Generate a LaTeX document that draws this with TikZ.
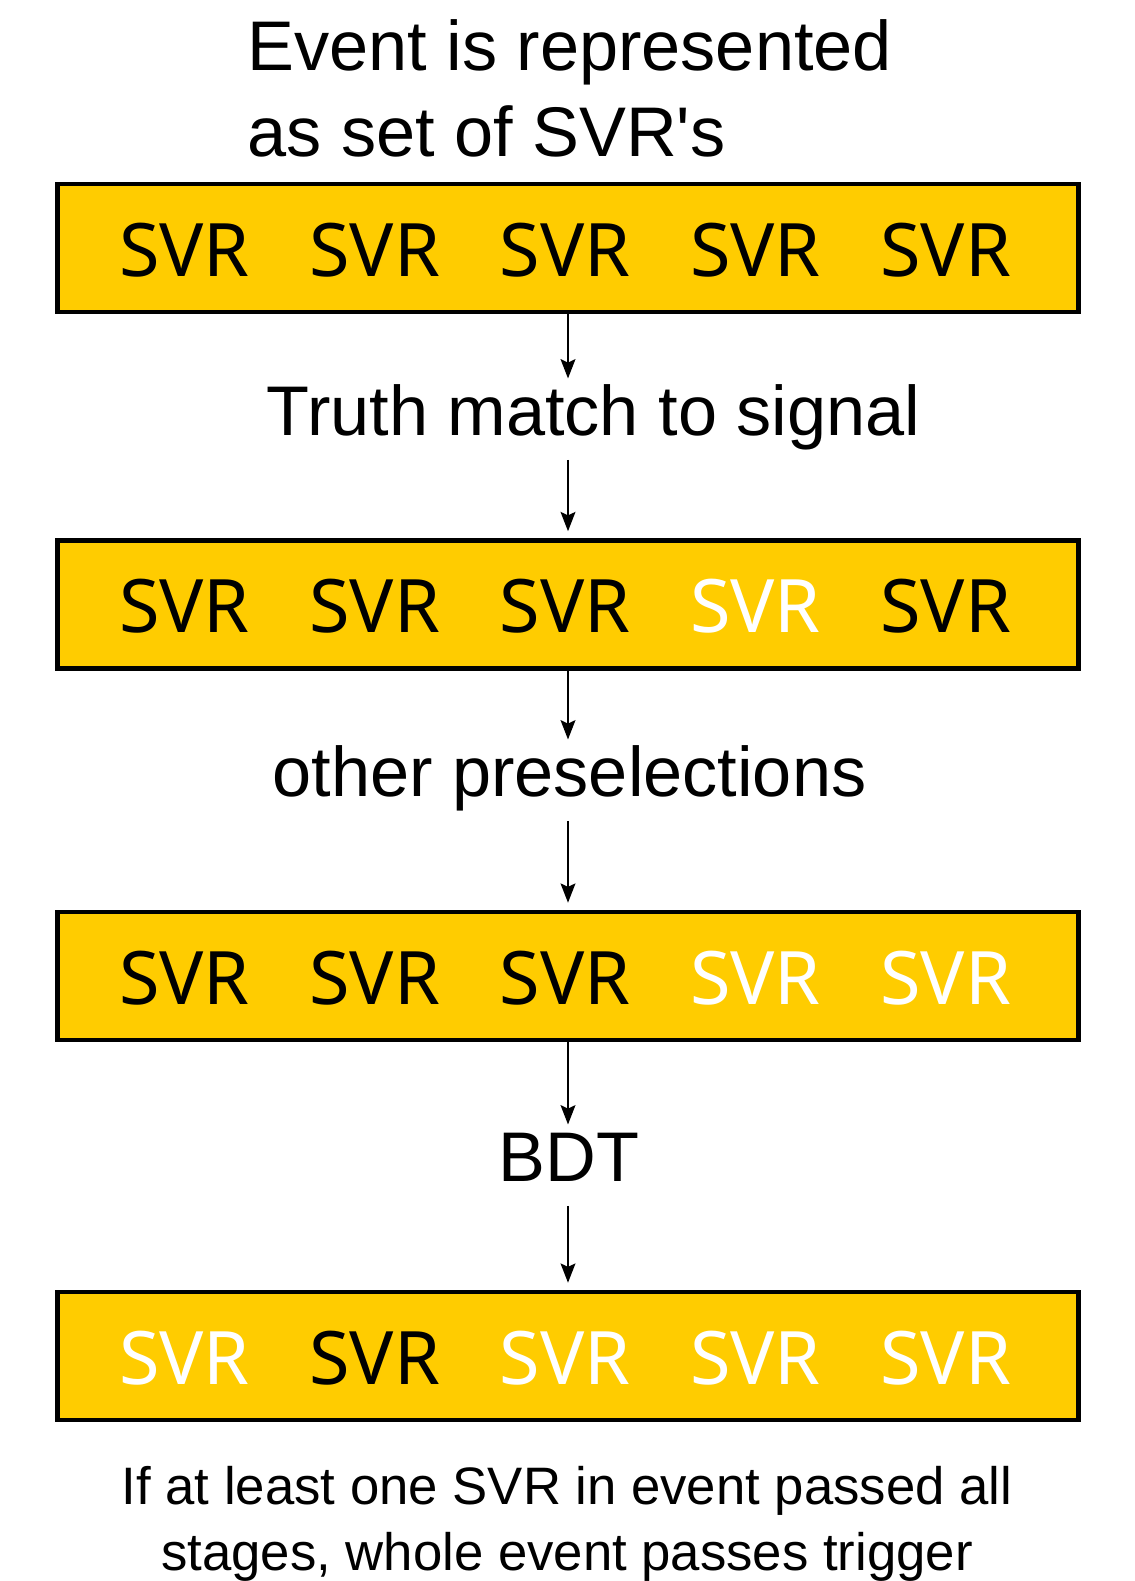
\documentclass[tikz,border=0pt]{standalone}
\usepackage{fontspec}
\newfontfamily\arial{Liberation Sans}
\newfontfamily\svrfont{Noto Sans}
\usetikzlibrary{arrows.meta,positioning}
\definecolor{svryellow}{RGB}{255,204,0}
\begin{document}
\begin{tikzpicture}[x=0.02cm, y=-0.02cm,
        row/.style = {draw, line width=2.6pt, fill=svryellow, minimum width=20.42cm, minimum height=2.56cm, inner sep=0pt},
        svr/.style = {font=\svrfont\fontsize{42}{48}\selectfont, inner sep=0pt},
        lbl/.style = {font=\arial\fontsize{40}{49}\selectfont, text height=26pt, text depth=8pt, inner xsep=0pt, inner ysep=6pt},
        flow/.style = {line width=0.85pt, -{Stealth[length=11pt,width=8.5pt,inset=2pt]}}]
            \useasboundingbox (0,0) rectangle (1134,1581);
            \node[align=left, anchor=base west, inner sep=0pt, font=\arial\fontsize{40}{49}\selectfont] (title) at (247,157) {Event is represented\\as set of SVR's};
            % rows of SVR's, white = rejected
            \node[row] (ev1) at (568,248) {};
            \foreach \c [count=\i] in {black,black,black,black,black}
                \node[svr, text=\c] (ev1-\i) at (190.3*\i-5.8,250) {SVR};
            \node[row] (ev2) at (568,604.5) {};
            \foreach \c [count=\i] in {black,black,black,white,black}
                \node[svr, text=\c] (ev2-\i) at (190.3*\i-5.8,606.5) {SVR};
            \node[row] (ev3) at (568,976) {};
            \foreach \c [count=\i] in {black,black,black,white,white}
                \node[svr, text=\c] (ev3-\i) at (190.3*\i-5.8,978) {SVR};
            \node[row] (ev4) at (568,1356) {};
            \foreach \c [count=\i] in {white,black,white,white,white}
                \node[svr, text=\c] (ev4-\i) at (190.3*\i-5.8,1358) {SVR};
            % stages
            \node[lbl, anchor=base] (truth) at (593.5,435) {Truth match to signal};
            \node[lbl, anchor=base] (presel) at (569.5,796) {other preselections};
            \node[lbl, anchor=base] (bdt) at (569,1181) {BDT};
            \draw[flow] (ev1.south) -- (ev1.south |- truth.north);
            \draw[flow, shorten >=4pt] (ev1.south |- truth.south) -- (ev2.north);
            \draw[flow] (ev2.south) -- (ev2.south |- presel.north);
            \draw[flow, shorten >=4pt] (ev2.south |- presel.south) -- (ev3.north);
            \draw[flow] (ev3.south) -- (ev3.south |- bdt.north);
            \draw[flow, shorten >=4pt] (ev3.south |- bdt.south) -- (ev4.north);
            \node[align=center, anchor=base, inner sep=0pt, font=\arial\fontsize{30}{37.4}\selectfont] (note) at (567,1570) {If at least one SVR in event passed all\\stages, whole event passes trigger};
        \end{tikzpicture}
\end{document}
